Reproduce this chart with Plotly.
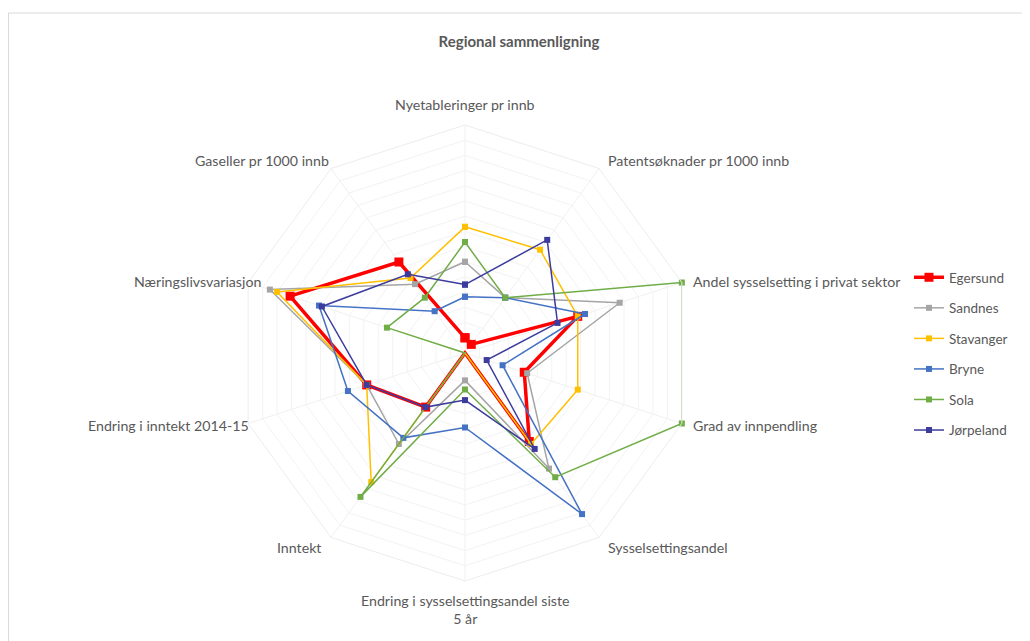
import plotly.graph_objects as go

categories = [
    "Nyetableringer pr innb",
    "Patentsøknader pr 1000 innb",
    "Andel sysselsetting i privat sektor",
    "Grad av innpendling",
    "Sysselsettingsandel",
    "Endring i sysselsettingsandel siste<br>5 år",
    "Inntekt",
    "Endring i inntekt 2014-15",
    "Næringslivsvariasjon",
    "Gaseller pr 1000 innb",
]

egersund = [1.0, 0.7, 7.8, 4.1, 7.2, 0.0, 4.4, 6.8, 12.1, 7.4]
sandnes = [6.0, 4.5, 10.7, 4.3, 9.4, 1.8, 7.4, 6.8, 13.5, 5.6]
stavanger = [8.3, 8.4, 7.8, 7.8, 7.4, 0.0, 10.5, 6.8, 13.0, 6.1]
bryne = [3.7, 4.5, 8.3, 2.6, 13.1, 4.9, 6.9, 8.1, 10.1, 3.4]
sola = [7.3, 4.5, 15.0, 15.0, 10.1, 2.4, 11.7, 0.0, 5.4, 4.5]
jorpeland = [4.5, 9.2, 6.4, 1.5, 7.8, 3.1, 4.4, 6.8, 9.9, 6.4]

series = [
    ("Egersund", egersund, "#FF0000", 3.5, 9),
    ("Sandnes", sandnes, "#A5A5A5", 1.5, 6),
    ("Stavanger", stavanger, "#FFC000", 1.5, 6),
    ("Bryne", bryne, "#4472C4", 1.5, 6),
    ("Sola", sola, "#70AD47", 1.5, 6),
    ("Jørpeland", jorpeland, "#3C3C9E", 1.5, 6),
]

fig = go.Figure()
for i, (name, vals, color, lw, ms) in enumerate(series):
    fig.add_trace(go.Scatterpolar(
        r=vals + vals[:1],
        theta=categories + categories[:1],
        mode="lines+markers",
        name=name,
        legendgroup=f"g{i}",
        line=dict(color=color, width=lw),
        marker=dict(symbol="square", size=ms, color=color),
        cliponaxis=False,
    ))

W, H = 1030, 641
OFF = 8  # page body margin
cx, cy, R = 465 - OFF, 353 - OFF, 228

# category label placement (pixel anchor, alignment)
label_pos = [
    (465, 105, "center"),
    (606, 160, "left"),
    (691, 281, "left"),
    (691, 426, "left"),
    (606, 547, "left"),
    (465, 609, "center"),
    (323, 547, "right"),
    (251, 426, "right"),
    (263, 281, "right"),
    (331, 160, "right"),
]
annotations = []
for text, (px, py, al) in zip(categories, label_pos):
    annotations.append(dict(
        text=text, xref="paper", yref="paper",
        x=(px - OFF) / W, y=1 - (py - OFF) / H,
        xanchor=al, yanchor="middle", align="center", showarrow=False,
        font=dict(size=14.2, color="#595959"),
    ))

fig.update_layout(
    width=W, height=H,
    margin=dict(l=0, r=0, t=0, b=0),
    paper_bgcolor="white",
    font=dict(family="Lato, 'Open Sans', sans-serif", color="#595959", size=12),
    title=dict(text="<b>Regional sammenligning</b>", x=(519 - OFF) / W, xanchor="center",
               y=1 - (42 - OFF) / H, yanchor="middle",
               font=dict(size=15, color="#595959")),
    polar=dict(
        domain=dict(x=[(cx - R) / W, (cx + R) / W], y=[1 - (cy + R) / H, 1 - (cy - R) / H]),
        bgcolor="white",
        gridshape="linear",
        radialaxis=dict(range=[0, 15], dtick=1, showticklabels=False, ticks="",
                        showline=False, gridcolor="#F3F3F3", gridwidth=1),
        angularaxis=dict(rotation=90, direction="clockwise", showline=True,
                         linecolor="#EDEDED", gridcolor="#F0F0F0", ticks="",
                         showticklabels=False),
    ),
    annotations=annotations,
    legend=dict(x=(950 - 41 - OFF) / W, xanchor="left", y=1 - (354 - OFF) / H, yanchor="middle",
                font=dict(size=13.5, color="#595959"), traceorder="grouped",
                tracegroupgap=10, itemwidth=30, bgcolor="rgba(0,0,0,0)"),
    shapes=[dict(type="rect", xref="paper", yref="paper",
                 x0=0.5 / W, x1=1.02, y0=-0.02, y1=1 - (13 - OFF) / H,
                 line=dict(color="#D9D9D9", width=1))],
)

fig.write_html("out.html")
